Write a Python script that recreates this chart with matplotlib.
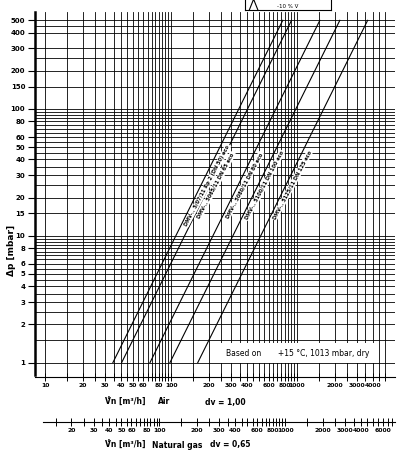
import matplotlib
matplotlib.use("Agg")
import matplotlib.pyplot as plt
from matplotlib.ticker import NullFormatter
import numpy as np

# data
line_labels = ["DMV-.. 5/07/11 Rp 2 (DN 50) eco", "DMV-.. 5065/11 DN 65 eco",
               "DMV-.. 5080/11 DN 80 eco", "DMV-.. 5100/11 DN 100 eco",
               "DMV-.. 5125/11 DN 125 eco"]
flow_at_1mbar = [34.5, 40.5, 68, 98, 163]     # m3/h air at dp = 1 mbar
dp_max = 500
y_labels = [1, 2, 3, 4, 5, 6, 8, 10, 15, 20, 30, 40, 50, 60, 80, 100, 150, 200, 300, 400, 500]
air_labels = [10, 20, 30, 40, 50, 60, 80, 100, 200, 300, 400, 600, 800, 1000, 2000, 3000, 4000]
gas_labels = [20, 30, 40, 50, 60, 80, 100, 200, 300, 400, 600, 800, 1000, 2000, 3000, 4000, 6000]
gas_factor = 1.24

xlim = (8.3, 6000)
ylim = (0.8, 580)

fig = plt.figure(figsize=(4.17, 4.5), dpi=100)
ax = fig.add_axes([0.084, 0.167, 0.863, 0.806])
ax.set_xscale("log"); ax.set_yscale("log")
ax.set_xlim(*xlim); ax.set_ylim(*ylim)

# grid
vx = []
for d in [10, 100]:
    vx += list(np.arange(1, 10.01, 0.5) * d)
vx += list(np.arange(1000, 5001, 500))
vx = sorted(set(vx))
for v in vx:
    ax.axvline(v, color="black", lw=0.6, zorder=1)
hy = []
for d in [1, 10]:
    hy += [d * m for m in [1, 1.5, 2, 2.5, 3, 3.5, 4, 4.5, 5, 5.5, 6, 6.5, 7, 7.5, 8, 8.5, 9, 9.5]]
hy += [100, 150, 200, 250, 300, 400, 450, 500]
for v in hy:
    ax.axhline(v, color="black", lw=0.6, zorder=1)

# lines
for q1, lab in zip(flow_at_1mbar, line_labels):
    qs = np.array([q1, q1 * np.sqrt(dp_max)])
    ax.plot(qs, qs**2 / q1**2, color="black", lw=0.8, zorder=3)
    dpl = 25
    ax.text(q1 * np.sqrt(dpl) * 1.12, dpl, lab, rotation=62, fontsize=3.6, ha="center", va="center",
            fontweight="bold", zorder=4,
            bbox=dict(facecolor="white", edgecolor="none", pad=0.5))

ax.set_xticks([])
ax.set_xticks([], minor=True)
ax.set_yticks(y_labels)
ax.set_yticklabels([str(v) for v in y_labels], fontsize=5, fontweight="bold")
ax.yaxis.set_minor_formatter(NullFormatter())
ax.set_yticks([], minor=True)
ax.tick_params(axis="y", length=5, width=0.8, direction="out", pad=2)
for s in ["top", "right", "bottom"]:
    ax.spines[s].set_visible(False)
ax.spines["left"].set_linewidth(1.8)
fig.text(12/417, 1-250/450, "Δp [mbar]", fontsize=6.5, fontweight="bold", rotation=90,
         ha="center", va="center")

ax.text(0.53, 0.06, "Based on       +15 °C, 1013 mbar, dry", transform=ax.transAxes,
        fontsize=5.5, va="center", ha="left", zorder=5,
        bbox=dict(facecolor="white", edgecolor="none", pad=4))

def bottom_axis(ypos, lo, hi, labels, minors, bound_lo):
    a = fig.add_axes([0.084, ypos, 0.863, 0.001])
    a.set_xscale("log")
    a.set_xlim(lo, hi)
    a.set_yticks([])
    for s in ["top", "right", "left"]:
        a.spines[s].set_visible(False)
    a.spines["bottom"].set_bounds(bound_lo, hi)
    a.set_xticks(labels)
    a.set_xticklabels([str(v) for v in labels], fontsize=4.4, fontweight="bold")
    a.set_xticks(minors, minor=True)
    a.xaxis.set_minor_formatter(NullFormatter())
    a.tick_params(axis="x", which="both", direction="inout", length=6, width=0.7, pad=1)
    return a

bottom_axis(0.162, xlim[0], xlim[1], air_labels, vx, xlim[0])
gv = [v for v in vx if v >= 12] + [5500, 6000, 6500, 7000]
bottom_axis(0.062, xlim[0] * gas_factor, xlim[1] * gas_factor, gas_labels, gv, 12)

fig.text(105/417, 1-402/450, "V̊n [m³/h]", fontsize=5.5, fontweight="bold", va="center")
fig.text(158/417, 1-402/450, "Air", fontsize=5.5, fontweight="bold", va="center")
fig.text(205/417, 1-402/450, "dv = 1,00", fontsize=5.5, fontweight="bold", va="center")
fig.text(105/417, 1-445/450, "V̊n [m³/h]", fontsize=5.5, fontweight="bold", va="center")
fig.text(152/417, 1-445/450, "Natural gas", fontsize=5.5, fontweight="bold", va="center")
fig.text(210/417, 1-445/450, "dv = 0,65", fontsize=5.5, fontweight="bold", va="center")

# top warning box
box = fig.add_axes([245/417, 1-10/450, 86/417, 12/450])
box.set_xticks([]); box.set_yticks([])
for s in box.spines.values():
    s.set_linewidth(0.8)
box.text(0.5, 0.3, "-10 % V̇", fontsize=4, ha="center", va="center", transform=box.transAxes)
box.plot([0.05, 0.1, 0.15], [0.0, 0.9, 0.0], color="black", lw=0.8, transform=box.transAxes)

fig.savefig("out.png", dpi=100)
